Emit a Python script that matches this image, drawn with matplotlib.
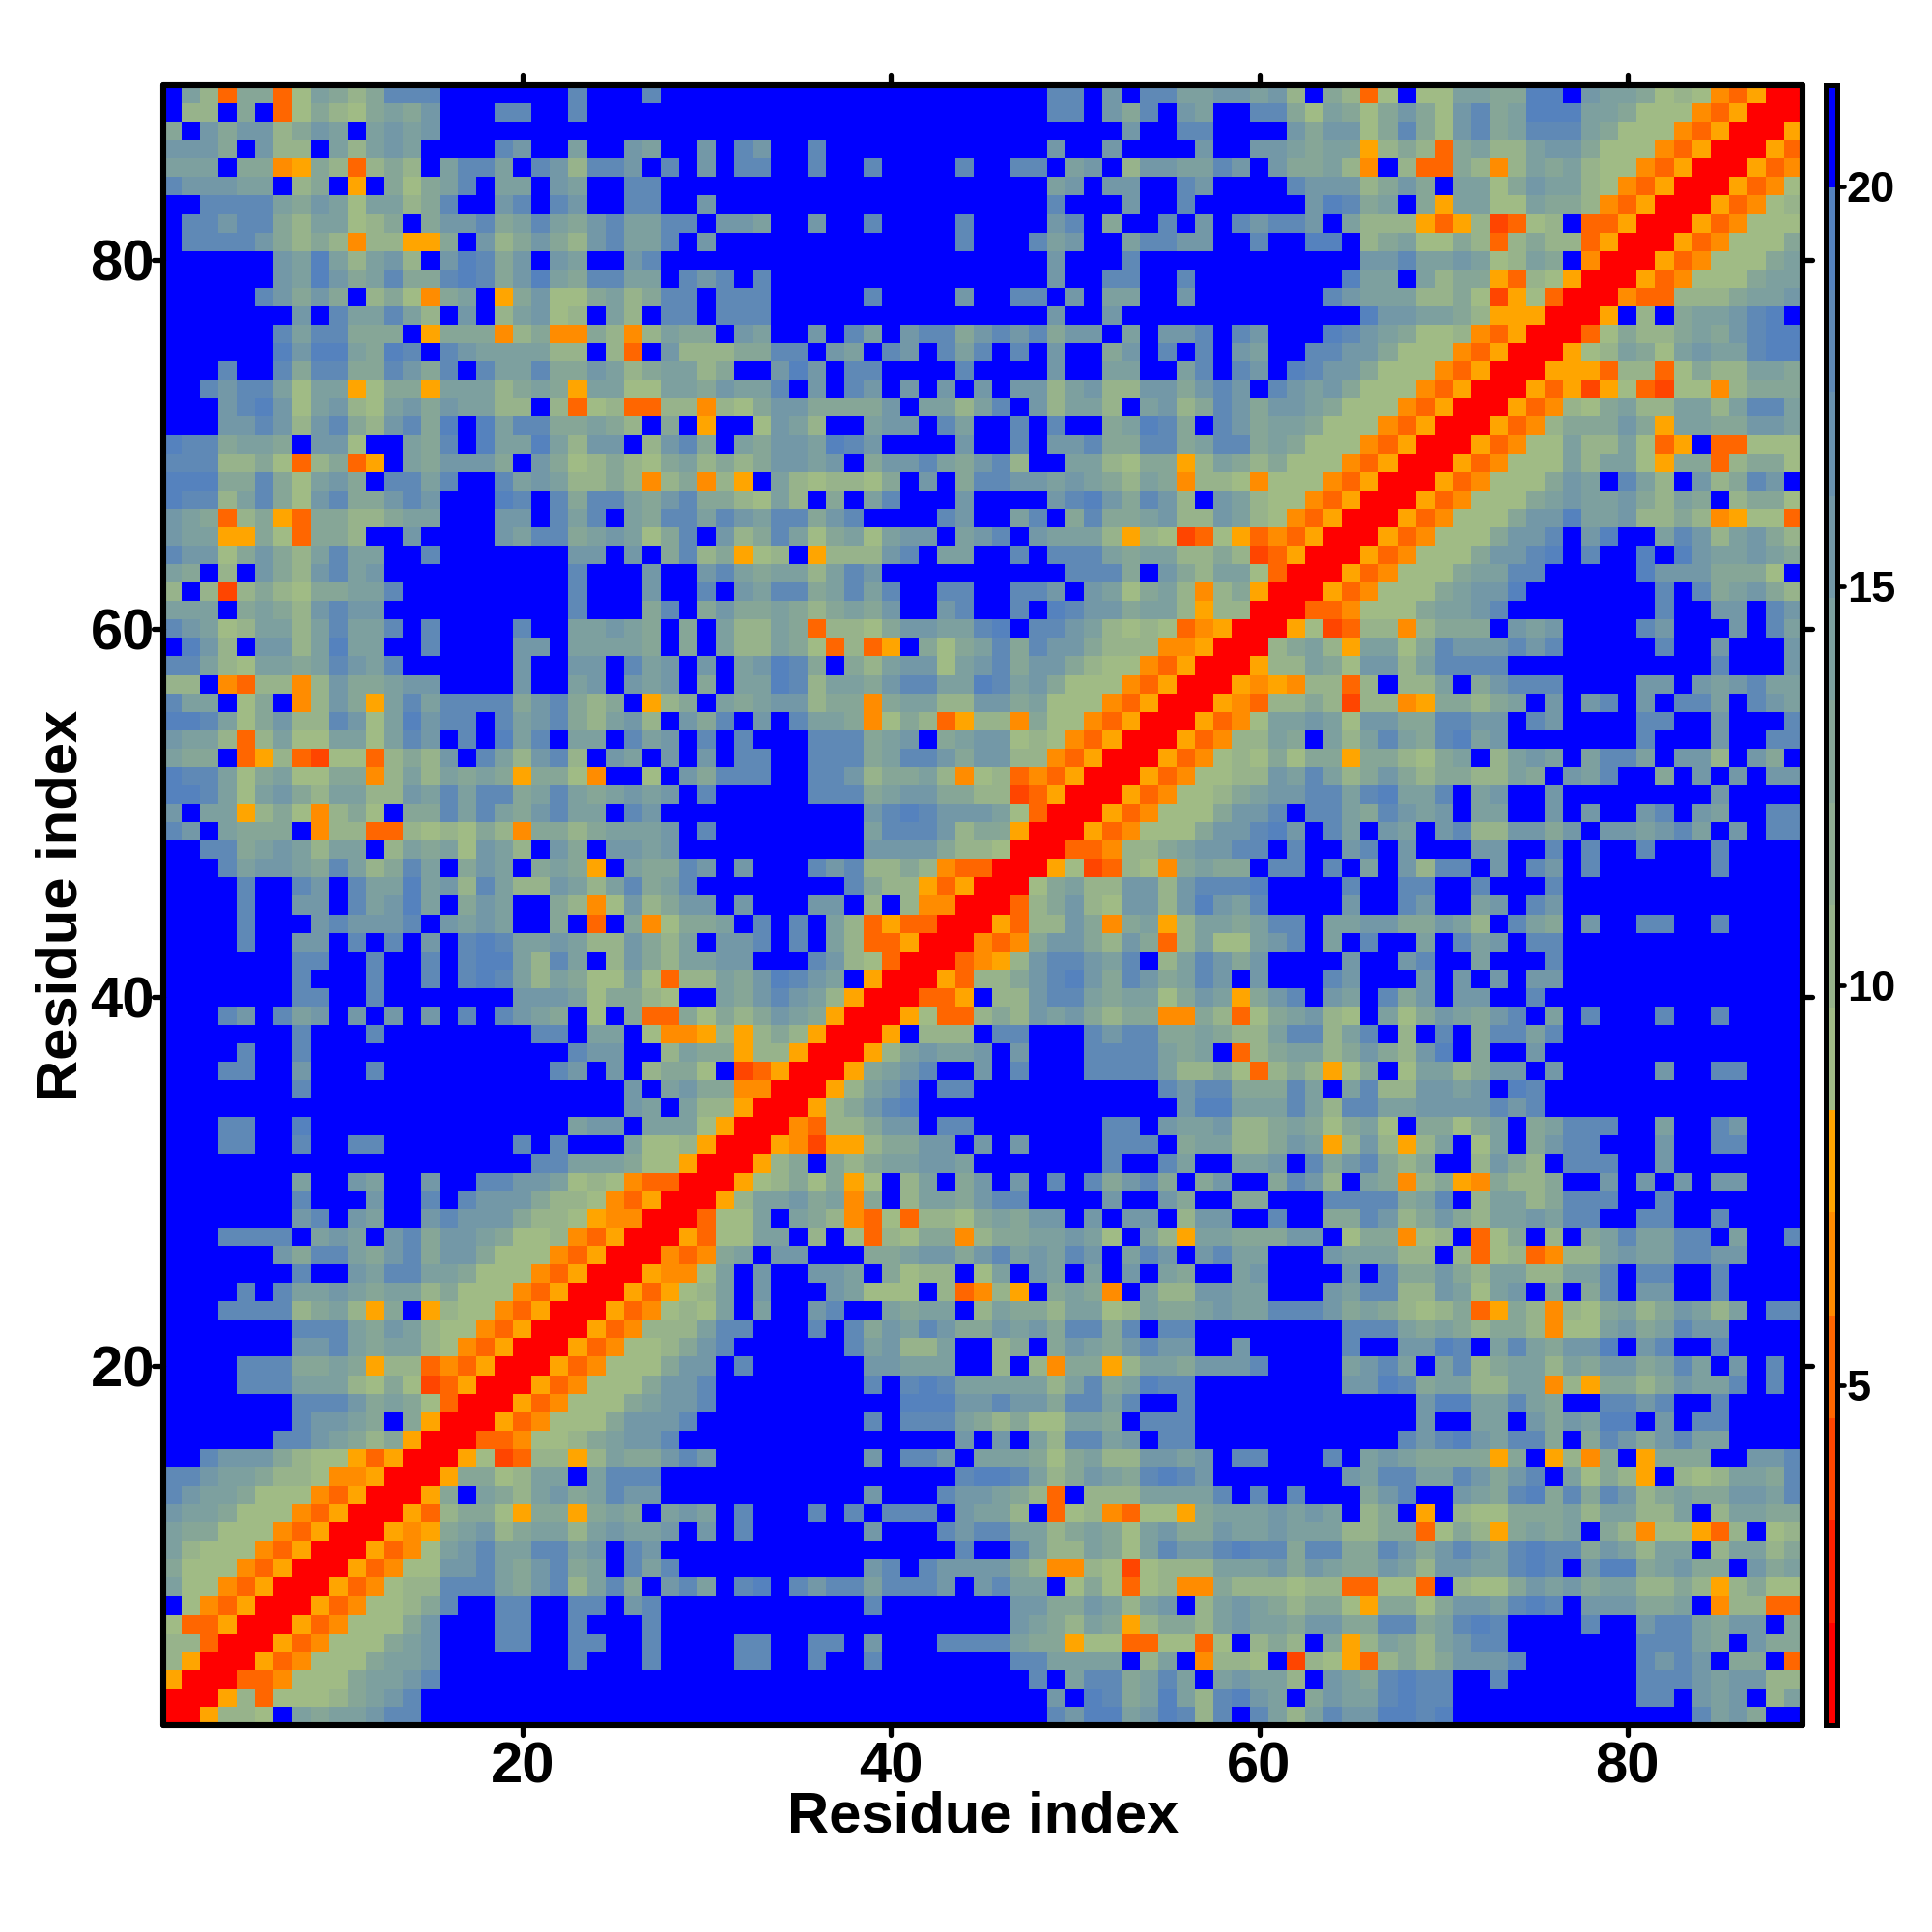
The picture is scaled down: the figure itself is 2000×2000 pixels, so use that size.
import numpy as np
import matplotlib
matplotlib.use("Agg")
import matplotlib.pyplot as plt
from matplotlib.colors import ListedColormap, Normalize
from matplotlib.markers import MarkerStyle, TICKDOWN, TICKUP, TICKLEFT, TICKRIGHT

plt.rcParams['font.family'] = ['Liberation Sans', 'DejaVu Sans']
plt.rcParams['font.weight'] = 'bold'

B = "b"
# Upper triangle of the symmetric residue distance map, row y = 1..89, from column x = y to 89.
ROWS = [
 "rry221b4344566"+B*16+B*18+"6577457626b6"+"4246557767"+B*13+"6453bb",
 "rry2d11123456"+B*16+B*18+"5b7634742675"+"4b35446766"+B*10+"66b545b24",
 "rrddo1113 4456".replace(" ","")+B*15+B*17+"6b4663464b454"+"42b5436766"+"bb6"+B*7+"666545522",
 "rrydo1113445"+B*7+"6bbb6bbb"+"b66bb6bb6"+B*7+"66"+"4444b24bo221"+"be21yd23235556"+B*6+"6565b33bd",
 "rrydo111345"+"bbb66bb66bb6bbb"+"b66bb66b5bbb6666"+"433y11dd11d1b2"+"32b3y24324566"+B*7+"66643b533",
 "rrydo11135"+"bbb66bb6bbb6bbb"+B*16+"543243y2332454"+"4355336634676"+"bbbb6bb"+"5664355b3",
 "rrydo11236"+"bb66bb66b56bbb"+B*8+"6"+B*7+"553354245b2454"+"32331y3313554676b555334bo22dd",
 "rrydo122"+"66643562463b564"+"b67b656646665b5644b131d12oo322"+"2122dd11db21135453442232y2311",
 "rrydo11556435634b646bb"+B*8+"56b6555532oo21e1222444"+"5354335425"+"544676b577"+"34533b534",
 "rrydo1456446645b65bbb"+B*13+"6bb"+"64224314655676"+"6366336535"+"6546766354"+"244b24423",
 "rryoy3452344245445b5"+"b6"+B*6+"5bbb"+"656644234314533544"+"54442233d1"+"32y3434b32"+"o11yd2b12",
 "rryd2331y33y343b454"+"b6bbb6b6b666b5442bd12od11y3444"+"5454b23byb"+"2113334244"+"224b24433",
 "rry3b4324534655bbb"+B*8+"5bbb"+"655432db22244446b6"+"b6bbb356bb"+"5436736365"+"234335546",
 "rry331244b4666bbb"+B*13+"67764235436765bbb"+"bbbb546644"+"65356b4132"+"yb2124436",
 "rry1ed22y2433565"+B*8+"5b665b"+"4443134225545b66"+"bbb6b45433"+"33y3by2o3b"+"y333bb556",
 "rrddo11234556bb"+B*13+"5b5b426645b66bbbb"+B*7+"656"+"754663b365"+"35644bbbb",
 "rrydo11135556b"+B*8+"6b666"+"432311443b666bbbb"+B*8+"5b"+"b44b535477"+"b5b66bbbb",
 "rrydo11134556"+B*10+"777"+"5565536646bb6bbbb"+B*8+"57"+"744643bb66"+"56bb6bbbb",
 "rrydo1113556"+B*8+"6b676"+"4444424634766bbbb"+"bbbb557634"+"42244o2y33"+"235446b6b",
 "rrydo111355"+"b6bbbbbb55444bb2b2o33y24435556"+"bbbb4564b4"+"6234424355"+"3464b5b6b",
 "rrydo11235"+"6bbbbbb"+"645224bb23b35435655bb5b"+"bbbb6bb557"+"6b4643557b"+"56bb6bbbb",
 "rrydo2224"+"66bbb6b6"+"354653354536636b66bbbb"+"bbbb666434"+"32332o1145"+"34655bbbb",
 "rrydo121"+"4b4bb56bb4344b2433244124334544"+"6665343212"+"3dy32o2134"+"235424b66",
 "rrydy12"+"4b5bbb54111b2do2yb343ob4225544"+"bbb5466225"+"4145b3b36b"+"55bb6bbbb",
 "rryoo1"+"4b5bb554b3122b14b54b4b5b43bb45"+"bbbb5b6335"+"324422446b"+"66bb6bbbb",
 "rrodo"+"34b55bbb3345535645465b465b5644"+"bbb544422b"+"2d12do2245"+"446655bbb",
 "rryd"+"1144b2b1d2133o23344541b42y4433"+"355b133o12"+"bd13b2b346"+"4466b4bb6",
 "rrd"+"114b432od1d22134355b5b55b255bb"+"6bb3365235"+"32445466bb"+"66bb6bbbb",
 "rr"+"y244534o3b"+"2443566bbb"+"b5bb53bb33"+"bbb6666346"+"b24423666b"+"b6bbbbbbb",
 "r"+"ry12313y1b24b35b5b6b63563b35bb"+"3652b43o23"+"yo3223bb5b"+"5b5b55bbb",
 "rry23b32344554"+B*7+"6bb64bb44"+"5b6356323b"+"b2532b666b"+"b5bbbbbbb",
 "rryoeyy23355b5b5"+"bbbb"+"666b34422"+"354y252y24"+"b14b3566bb"+"b5bb66bbb",
 "rrod22355b66"+B*7+"66b544522"+"3431341b33"+"134b34666b"+"b4bb65bbb",
 "rry23567"+B*14+"57744"+"4642664455"+"55656"+B*14,
 "rry2456b66"+B*10+"656633"+"364b462255"+"45b76"+B*14,
 "rry3456bb5b6bbb"+"6666"+"42231d"+"232y13b144"+"2355b5bbbb"+"b5bb66bbb",
 "rry245445b5bbb"+"6666"+"434bd2"+"3442353257"+"b3bb5"+B*14,
 "rryb222b66bbb6566334322"+"466246b2b6"+"b36646"+B*13,
 "rry1dd2325453233oo32d1"+"34521b4135"+"4356b4b6bb"+"b6bb6bbbb",
 "rrddyb2256643441354y3"+"56b54b635b"+"55bb6"+B*14,
 "rryd22356753653465b5"+"bbb65bbb5b"+"5b5b55"+B*13,
 "rrdoy2566546b246535"+"bbbb5bb56b"+"b4bbb6"+B*13,
 "rrodo3553253d24114"+"56b4b6bb4b"+"645b66"+B*13,
 "rryd2253o34y24434"+"66b4455335"+"42b643b5bb"+"66bb6bbbb",
 "rrd2352155257546"+"bbbb5bb65b"+"b45b65"+B*13,
 "rr1342255256667"+"bbbb6bb66b"+"b6bbb6"+B*13,
 "rry1ed21o3433b"+"66b6b4b526"+"6b5b65b6bb"+"bbbb6bbbb",
 "rrddo22345566"+"b6bb56b5bb"+"b55bb6b6bb"+"6bbb6bbbb",
 "rrydo1113556"+"75b64b54b5"+"6225535b55"+"4564b5b66",
 "rrydo111355"+"6b66436545"+"b44bb5b5bb"+"56b54bb66",
 "rrydo11234"+"5566467446"+"b45bb5"+B*8+"5bbbb",
 "rrydo1122"+"5464235323"+"32243b546b"+"b3b5b5b55",
 "rrydo121"+"3133y33213"+"4b2454b466"+"4b552b53b",
 "rrydo22"+"43b4246436"+"745"+B*7+"6bbb5bb66",
 "rrydo1"+"4454155336"+"655b65bbbb"+"66bb5bbb6",
 "rryod"+"2232e22oy3"+"3234b5b56b"+"5b664b654",
 "rryo"+"yo22d2b224"+"b35666bbbb"+"55b545644",
 "rry"+"2243155246"+"666"+B*11+"6bbb5",
 "rr"+"2342y44136"+"555656bbbb"+"b6bb5bbb5",
 "r"+"ry1ed22o23"+"33b545bbbb"+"65bbb5b64",
 "rrddo11134"+"456"+B*7+"b6bb55b65",
 "rrydo1113"+"4557"+B*7+"6b634532",
 "rrydo11134466"+"bbbbb"+"75553331b",
 "rrydo11135567b6bb7b7544543",
 "rrydo1113556b57bb46524532",
 "rrydo11135574452232oy11d",
 "rrydo1113454453243b2331",
 "rrydo111354b642b52365b",
 "rrydo11142441y33d2331",
 "rrydo1142241dybdd111",
 "rrydo233353y4433554",
 "rrydo2134224424664",
 "rrydyey1de11o2333",
 "rryyyd22d1322443",
 "rry124314544677",
 "rrd13223435677",
 "rryb2b344567b",
 "rrodd2223445",
 "rrydo111344",
 "rrydo11134",
 "rrydo1113",
 "rrydo111",
 "rrydo12",
 "rrydo1",
 "rrydo",
 "rryd",
 "rry",
 "rr",
 "r",
]

# Distance read for each colour code
LEVELS = {'r': 1.38, 'e': 3.95, 'd': 5.23, 'o': 6.51, 'y': 7.8,
          '1': 9.08, '2': 10.35, '3': 12.93, '4': 14.2, '5': 15.5,
          '6': 18.06, '7': 19.34, 'b': 20.6}
COLORS = ["#FF0000", "#FF2000", "#FF4500", "#FF6600", "#FF8C00", "#FFA500",
          "#A0BB85", "#97B38B", "#8FAD91", "#86A697", "#7DA09F", "#7398A7",
          "#6991AE", "#5F89B6", "#5582BE", "#0000FF"]
VMIN, VMAX = 0.74, 21.27
RESIDUE_TICKS = [20, 40, 60, 80]
CBAR_TICKS = [5, 10, 15, 20]
XLABEL = YLABEL = "Residue index"

N = len(ROWS)
mat = np.zeros((N, N))
for i, row in enumerate(ROWS):
    if len(row) != N - i:
        raise SystemExit(f"row {i+1} has {len(row)} cells, wants {N-i}")
    for k, code in enumerate(row):
        mat[i, i + k] = mat[i + k, i] = LEVELS[code]

W = 2000.0
fig = plt.figure(figsize=(20, 20), dpi=100, facecolor='white')
L, R, T, Bm = 169, 1866, 88, 1786
ax = fig.add_axes([L/W, 1 - Bm/W, (R - L)/W, (Bm - T)/W])
edges = np.arange(0.5, N + 1)
cmap = ListedColormap(COLORS)
norm = Normalize(VMIN, VMAX)
mesh = ax.pcolormesh(edges, edges, mat, cmap=cmap, norm=norm, antialiased=False, linewidth=0)
ax.set_xlim(0.5, N + 0.5)
ax.set_ylim(0.5, N + 0.5)
ax.set_xticks(RESIDUE_TICKS)
ax.set_yticks(RESIDUE_TICKS)
ax.tick_params(axis='both', which='major', direction='out', length=7, width=3.8,
               top=True, right=True, labelsize=43, color='black')
ax.tick_params(axis='x', pad=5)
ax.tick_params(axis='y', pad=-0.5)
for s in ax.spines.values():
    s.set_linewidth(4.4)
    s.set_capstyle('round')
    s.set_joinstyle('round')

def round_ticks(axis, m1, m2):
    for t in axis.get_major_ticks():
        t.tick1line.set_marker(MarkerStyle(m1, capstyle='round'))
        t.tick2line.set_marker(MarkerStyle(m2, capstyle='round'))

round_ticks(ax.xaxis, TICKDOWN, TICKUP)
round_ticks(ax.yaxis, TICKLEFT, TICKRIGHT)

ax.set_xlabel(XLABEL, fontsize=43, fontweight='bold')
ax.set_ylabel(YLABEL, fontsize=43, fontweight='bold')
ax.xaxis.set_label_coords(0.5, (Bm - 1881)/(Bm - T))
ax.xaxis.label.set_va('center')
ax.yaxis.set_label_coords((64 - L)/(R - L), 0.5)
ax.yaxis.label.set_va('center')

cax = fig.add_axes([1889.5/W, 1 - Bm/W, 12/W, (Bm - T)/W])
cb = fig.colorbar(mesh, cax=cax, ticks=CBAR_TICKS)
cb.outline.set_linewidth(3.6)
cb.solids.set_antialiased(False)
cax.tick_params(axis='y', direction='out', length=4.7, width=3.4, labelsize=32.5, pad=2.6)
for t in cax.yaxis.get_major_ticks():
    t.tick2line.set_marker(MarkerStyle(TICKRIGHT, capstyle='round'))
for lab in cax.get_yticklabels() + ax.get_xticklabels() + ax.get_yticklabels():
    lab.set_fontweight('bold')
for lab in cax.get_yticklabels() + ax.get_yticklabels():
    lab.set_va('center_baseline')

fig.savefig("out.png", dpi=100, facecolor='white')
